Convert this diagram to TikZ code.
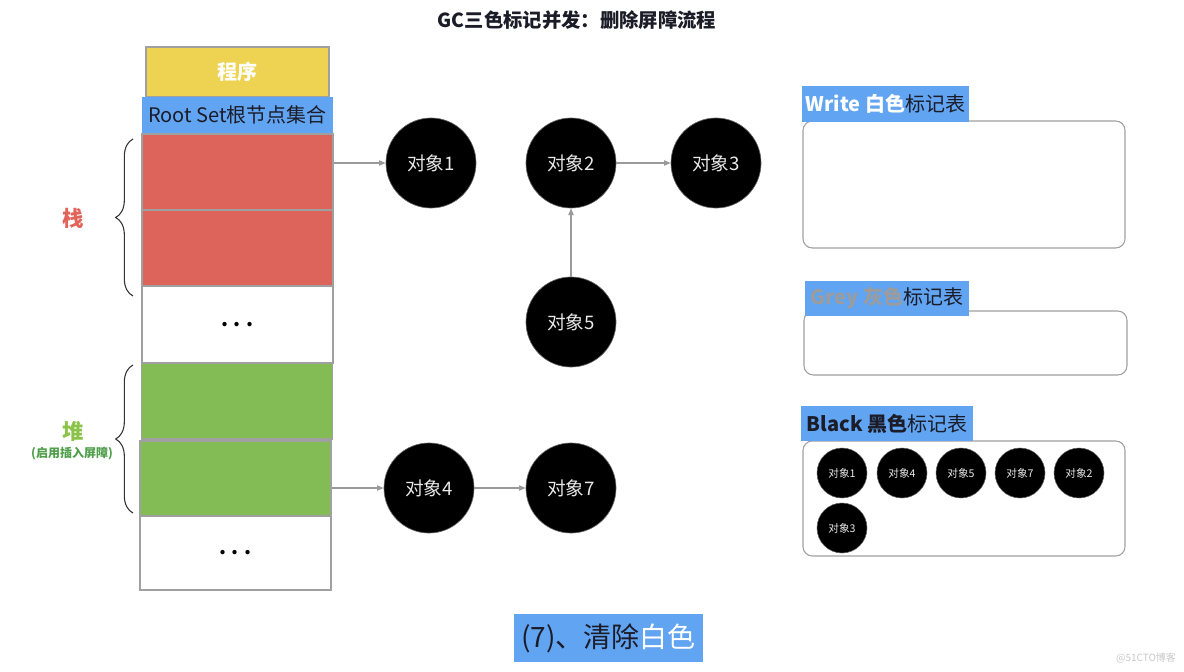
\documentclass[tikz,border=0pt]{standalone}
\usepackage{fontspec}
\setmainfont{Noto Sans CJK SC}
\usetikzlibrary{arrows.meta,decorations.pathreplacing,calc}
\def\px{0.75pt}
\definecolor{cyellow}{HTML}{EED352}
\definecolor{cblue}{HTML}{61A4F2}
\definecolor{cred}{HTML}{DC645A}
\definecolor{cgreen}{HTML}{83BB55}
\definecolor{cborder}{HTML}{A0A0A0}
\definecolor{carrow}{HTML}{9A9A9A}
\definecolor{cdark}{HTML}{1C1C28}
\definecolor{cstack}{HTML}{E0645A}
\definecolor{cheap}{HTML}{8BC34A}
\definecolor{cheapsub}{HTML}{4E9E4A}
\definecolor{cobjtext}{HTML}{E8E8E8}
\definecolor{cgreytext}{HTML}{9C9C9C}
\definecolor{cwater}{HTML}{C8C8C8}
\tikzset{
  cell/.style={draw=cborder, line width=0.8pt, inner sep=0pt, minimum width=191*\px, font=\fontsize{15}{18}\selectfont},
  obj/.style={circle, fill=black, draw=cborder!60!black, line width=0.5pt, minimum size=90*\px, inner sep=0pt, text=cobjtext, font=\fontsize{14}{16}\selectfont},
  sobj/.style={circle, fill=black, draw=cborder!60!black, line width=0.4pt, minimum size=50*\px, inner sep=0pt, text=cobjtext, font=\fontsize{8}{9}\selectfont},
  conn/.style={draw=carrow, line width=0.8pt, -{Triangle[length=5pt,width=4pt]}},
  tbl/.style={draw=cborder, line width=0.8pt, rounded corners=7pt, fill=white},
  hdr/.style={fill=cblue, inner sep=0pt, text=cdark, font=\fontsize{15}{18}\selectfont},
  brc/.style={draw=black!80, line width=0.8pt, decorate, decoration={brace, amplitude=13pt}},
}
\begin{document}
\begin{tikzpicture}[x=0.75pt, y=-0.75pt]
\useasboundingbox (0,0) rectangle (1184,671);
% title
\node[font=\fontsize{14.5}{17}\selectfont\bfseries, text=cdark] (title) at (577,20) {GC三色标记并发：删除屏障流程};
% left column
\node[cell, fill=cyellow, minimum width=183*\px, minimum height=50*\px, text=white, font=\fontsize{15}{18}\selectfont\bfseries] (prog) at (237.5,72) {程序};
\node[cell, draw=none, fill=cblue, minimum height=36*\px, text=cdark] (root) at (237.5,115) {Root Set根节点集合};
\node[cell, fill=cred, minimum height=76*\px] (red1) at (237.5,172) {};
\node[cell, fill=cred, minimum height=76*\px] (red2) at (237.5,248) {};
\node[cell, fill=white, minimum height=77*\px] (dots1) at (237.5,324.5) {\textbf{.\hspace{4pt}.\hspace{4pt}.}};
\node[cell, fill=cgreen, minimum height=76*\px] (green1) at (237,401) {};
\node[cell, fill=cgreen, minimum height=75*\px] (green2) at (235.5,478.5) {};
\node[cell, fill=white, minimum height=74*\px] (dots2) at (235.5,553) {\textbf{.\hspace{4pt}.\hspace{4pt}.}};
% braces
\draw[brc] (133,296) -- (133,139);
\draw[brc] (133,513) -- (133,365);
\node[text=cstack, font=\fontsize{16}{18}\selectfont\bfseries] (stack) at (73,218) {栈};
\node[text=cheap, font=\fontsize{16}{18}\selectfont\bfseries] (heap) at (73,431) {堆};
\node[text=cheapsub, font=\fontsize{9}{10}\selectfont\bfseries] (heapsub) at (72,454) {(启用插入屏障)};
% objects
\node[obj] (o1) at (431,163) {对象1};
\node[obj] (o2) at (571,163) {对象2};
\node[obj] (o3) at (716,163) {对象3};
\node[obj] (o5) at (571,322) {对象5};
\node[obj] (o4) at (429,488) {对象4};
\node[obj] (o7) at (571,488) {对象7};
% connectors
\draw[conn] (red1.east |- o1.west) -- (o1.west);
\draw[conn] (o2) -- (o3);
\draw[conn] (o5) -- (o2);
\draw[conn] (green2.east |- o4.west) -- (o4.west);
\draw[conn] (o4) -- (o7);
% tables
\draw[tbl] (803,121) rectangle (1125,248);
\draw[tbl] (804,311) rectangle (1127,375);
\draw[tbl] (803,441) rectangle (1125,556);
\node[hdr, minimum width=167*\px, minimum height=36*\px] (hw) at (885.5,104) {\textbf{\textcolor{white}{Write 白色}}标记表};
\node[hdr, minimum width=164*\px, minimum height=35*\px] (hg) at (887,298.5) {\textbf{\textcolor{cgreytext}{Grey 灰色}}标记表};
\node[hdr, minimum width=172*\px, minimum height=35*\px] (hb) at (887,423.5) {\textbf{Black 黑色}标记表};
% black set objects
\node[sobj] (b1) at (842,473) {对象1};
\node[sobj] (b4) at (902,473) {对象4};
\node[sobj] (b5) at (961,473) {对象5};
\node[sobj] (b7) at (1020,473) {对象7};
\node[sobj] (b2) at (1079,473) {对象2};
\node[sobj] (b3) at (842,528) {对象3};
% bottom caption
\node[fill=cblue, minimum width=189*\px, minimum height=48*\px, inner sep=0pt, text=cdark, font=\fontsize{21}{24}\selectfont] (cap) at (608.5,638) {(7)、清除\textcolor{white}{白色}};
\node[text=cwater, font=\fontsize{7.5}{9}\selectfont] (wm) at (1146,658) {@51CTO博客};
\end{tikzpicture}
\end{document}
